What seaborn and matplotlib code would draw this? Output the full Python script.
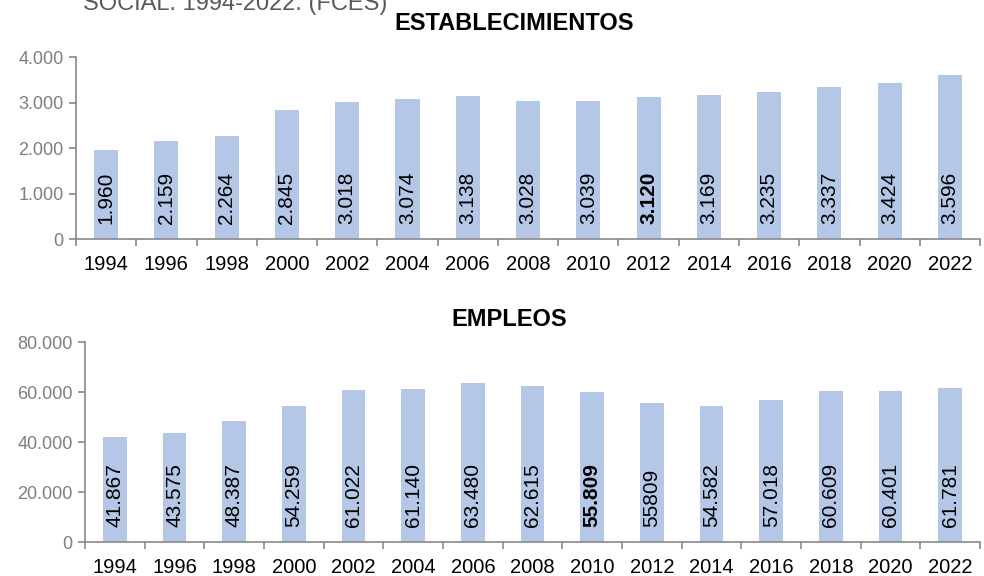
import matplotlib
matplotlib.use("Agg")
import matplotlib.pyplot as plt
import seaborn as sns
import pandas as pd

# datos
anios = ["1994", "1996", "1998", "2000", "2002", "2004", "2006", "2008",
         "2010", "2012", "2014", "2016", "2018", "2020", "2022"]
establecimientos = [1960, 2159, 2264, 2845, 3018, 3074, 3138, 3028,
                    3039, 3120, 3169, 3235, 3337, 3424, 3596]
etiquetas_est = ["1.960", "2.159", "2.264", "2.845", "3.018", "3.074", "3.138", "3.028",
                 "3.039", "3.120", "3.169", "3.235", "3.337", "3.424", "3.596"]
empleos = [41867, 43575, 48387, 54259, 61022, 61140, 63480, 62615,
           60000, 55809, 54582, 57018, 60609, 60401, 61781]
etiquetas_emp = ["41.867", "43.575", "48.387", "54.259", "61.022", "61.140", "63.480", "62.615",
                 "55.809", "55809", "54.582", "57.018", "60.609", "60.401", "61.781"]
negrita_est = ["2012"]
negrita_emp = ["2010"]
ticks_est = [0, 1000, 2000, 3000, 4000]
ticks_emp = [0, 20000, 40000, 60000, 80000]

sns.set_style("white")
plt.rcParams['font.family'] = ['Liberation Sans', 'DejaVu Sans']
plt.rcParams['text.color'] = 'black'

GRIS = "#898989"
AZUL = "#B4C7E7"

fig = plt.figure(figsize=(9.84, 5.76), dpi=100)
ax1 = fig.add_axes([0.0772, 0.585, 0.9188, 0.316])
ax2 = fig.add_axes([0.0864, 0.059, 0.9096, 0.347])


def dibujar(ax, valores, etiquetas, negrita, ticks):
    df = pd.DataFrame({"anio": anios, "valor": valores})
    sns.barplot(data=df, x="anio", y="valor", color=AZUL, saturation=1,
                width=0.4, edgecolor="none", ax=ax)
    ax.set_xlim(-0.5, len(anios) - 0.5)
    ax.set_ylim(ticks[0], ticks[-1])
    ax.set_yticks(ticks)
    ax.set_yticklabels([f"{t:,}".replace(",", ".") for t in ticks])
    ax.set_xlabel("")
    ax.set_ylabel("")
    for s in ["top", "right"]:
        ax.spines[s].set_visible(False)
    for s in ["left", "bottom"]:
        ax.spines[s].set_color(GRIS)
        ax.spines[s].set_linewidth(1.2)
    ax.tick_params(axis="y", left=True, length=5, width=1.2, color=GRIS,
                   labelcolor="#7f7f7f", labelsize=13, pad=4)
    ax.tick_params(axis="x", which="major", bottom=False, labelsize=14.5,
                   labelcolor="black", pad=8)
    ax.set_xticks([i - 0.5 for i in range(len(anios) + 1)], minor=True)
    ax.tick_params(axis="x", which="minor", bottom=True, length=5, width=1.2,
                   color=GRIS)
    for i, (a, t) in enumerate(zip(anios, etiquetas)):
        ax.annotate(t, xy=(i, 0), xytext=(0, 11), textcoords="offset points",
                    rotation=90, ha="center", va="bottom", fontsize=15,
                    fontweight="bold" if a in negrita else "normal",
                    color="black")


dibujar(ax1, establecimientos, etiquetas_est, negrita_est, ticks_est)
dibujar(ax2, empleos, etiquetas_emp, negrita_emp, ticks_emp)

fig.text(514 / 984, 1 - 24 / 576, "ESTABLECIMIENTOS", ha="center", va="center",
         fontsize=17, fontweight="bold", color="black")
fig.text(509 / 984, 1 - 319 / 576, "EMPLEOS", ha="center", va="center",
         fontsize=17, fontweight="bold", color="black")
fig.text(83 / 984, 1 - 10 / 576, "SOCIAL. 1994-2022. (FCES)", ha="left",
         va="baseline", fontsize=17, color="#595959")

fig.savefig("out.png", dpi=100)
